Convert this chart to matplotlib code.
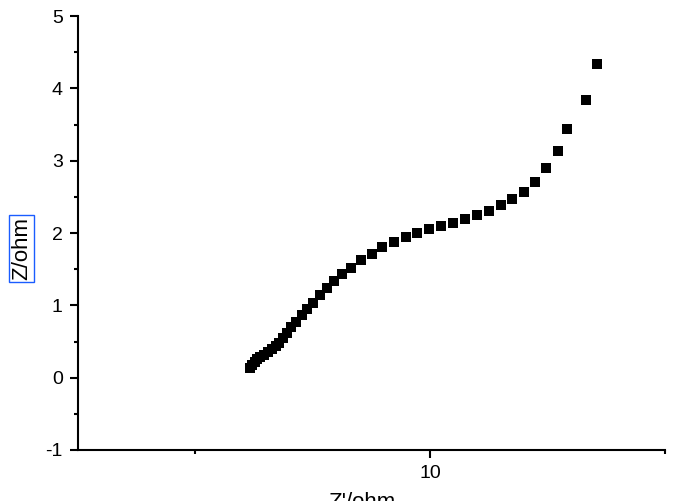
import matplotlib
matplotlib.use('Agg')
import matplotlib.pyplot as plt
from matplotlib.ticker import MultipleLocator, FixedLocator

plt.rcParams['font.family'] = ['Liberation Sans', 'DejaVu Sans']
plt.rcParams['axes.unicode_minus'] = False

# impedance data
z_real = [6.17, 6.21, 6.26, 6.32, 6.38, 6.47, 6.55, 6.64, 6.72, 6.79,
          6.87, 6.96, 7.04, 7.15, 7.26, 7.38, 7.51, 7.66, 7.81, 7.96,
          8.13, 8.32, 8.53, 8.75, 8.98, 9.23, 9.49, 9.72, 9.98, 10.23,
          10.49, 10.75, 11.00, 11.26, 11.51, 11.75, 12.00, 12.23, 12.47, 12.72,
          12.92, 13.32, 13.55]
z_imag = [0.13, 0.18, 0.22, 0.26, 0.29, 0.31, 0.36, 0.40, 0.44, 0.48,
          0.55, 0.62, 0.70, 0.77, 0.87, 0.95, 1.03, 1.14, 1.24, 1.34,
          1.43, 1.52, 1.63, 1.71, 1.81, 1.88, 1.95, 2.00, 2.06, 2.10,
          2.14, 2.20, 2.25, 2.31, 2.39, 2.47, 2.57, 2.71, 2.90, 3.14,
          3.44, 3.84, 4.34]

y_ticks = [-1, 0, 1, 2, 3, 4, 5]
x_major = [10]
x_minor = [5, 15]

fig = plt.figure(figsize=(6.84, 5.01), dpi=100)
ax = fig.add_axes([78/684, 51/501, 587/684, 434/501])

ax.plot(z_real, z_imag, 's', color='black', markersize=7, markeredgewidth=0)

ax.set_xlim(2.5, 15)
ax.set_ylim(-1, 5)
ax.xaxis.set_major_locator(FixedLocator(x_major))
ax.xaxis.set_minor_locator(FixedLocator(x_minor))
ax.set_yticks(y_ticks)
ax.yaxis.set_minor_locator(MultipleLocator(0.5))

ax.spines['top'].set_visible(False)
ax.spines['right'].set_visible(False)
for s in ['left', 'bottom']:
    ax.spines[s].set_linewidth(1.5)

ax.tick_params(which='major', direction='out', length=6, width=1.5, labelsize=14, pad=5)
ax.tick_params(which='minor', direction='out', length=3, width=1.5)

# y label with blue selection box
fig.text(21.5/684, 1 - 248/501, 'Z/ohm', rotation=90, ha='center', va='center', fontsize=16,
         bbox=dict(facecolor='none', edgecolor='#1a5cff', linewidth=1, pad=1.5))
# x label, cut off by bottom edge as in the original
fig.text(362/684, 1 - 492/501, "Z'/ohm", ha='center', va='top', fontsize=16)

fig.savefig('out.png', dpi=100)
